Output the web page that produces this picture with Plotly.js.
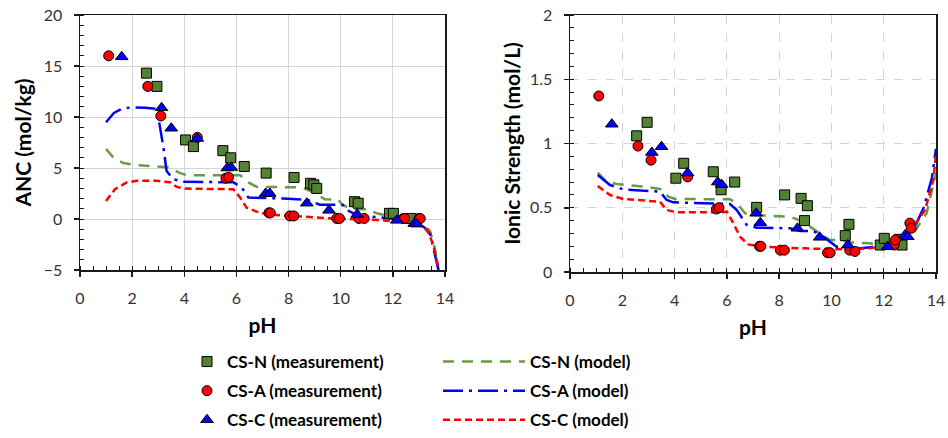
<!DOCTYPE html>
<html>
<head>
<meta charset="utf-8">
<script src="https://cdn.plot.ly/plotly-3.0.1.min.js"></script>
<style>html,body{margin:0;padding:0;background:#fff;}#chart{width:948px;height:438px;}</style>
</head>
<body>
<div id="chart"></div>
<script>
// ---------- measurement data ----------
var pH_N = [2.55, 2.95, 4.05, 4.35, 5.48, 5.78, 6.3, 7.14, 8.21, 8.84, 8.97, 9.08, 10.53, 10.67, 11.87, 12.02, 12.6, 12.7];
var anc_N = [14.3, 13.0, 7.75, 7.1, 6.7, 6.0, 5.15, 4.5, 4.07, 3.5, 3.35, 3.0, 1.7, 1.55, 0.55, 0.55, 0.05, 0.05];
var is_N = [1.06, 1.165, 0.73, 0.846, 0.78, 0.64, 0.70, 0.503, 0.60, 0.573, 0.40, 0.516, 0.283, 0.371, 0.21, 0.262, 0.254, 0.21];

var pH_A = [1.1, 2.6, 3.1, 4.5, 5.6, 5.7, 7.25, 7.3, 8.05, 8.2, 9.85, 9.95, 10.7, 10.9, 12.4, 12.45, 13.0, 13.05];
var anc_A = [16.0, 13.0, 10.1, 8.0, 4.0, 4.1, 0.6, 0.6, 0.3, 0.3, 0.05, 0.05, 0.05, 0.05, 0.05, 0.05, 0.05, 0.05];
var is_A = [1.37, 0.98, 0.87, 0.74, 0.49, 0.50, 0.20, 0.20, 0.17, 0.17, 0.15, 0.15, 0.17, 0.16, 0.21, 0.25, 0.38, 0.34];

var pH_C = [1.6, 3.13, 3.5, 4.5, 5.65, 5.8, 7.12, 7.28, 8.7, 9.55, 10.63, 12.15, 12.82, 12.92];
var anc_C = [15.9, 10.9, 8.9, 7.9, 5.0, 5.05, 2.5, 2.5, 1.55, 0.85, 0.45, -0.13, -0.45, -0.5];
var is_C = [1.15, 0.93, 0.975, 0.77, 0.70, 0.68, 0.457, 0.384, 0.34, 0.27, 0.21, 0.197, 0.288, 0.275];

// ---------- model curves: ANC ----------
var mANC_N_pH = [1.0, 1.28, 1.66, 2.05, 2.94, 3.39, 3.84, 4.09, 6.14, 6.46, 6.78, 8.5, 8.82, 9.4, 9.9, 10.1, 10.61, 11.0, 11.38, 11.8, 12.1, 12.82, 13.2, 13.43, 13.6, 13.75];
var mANC_N = [6.86, 6.03, 5.48, 5.31, 5.15, 5.05, 4.5, 4.3, 4.3, 3.58, 3.15, 3.1, 2.76, 1.94, 1.9, 1.3, 0.95, 0.95, 0.56, 0.3, 0.1, -0.1, -0.6, -1.2, -2.8, -5.0];
var mANC_A_pH = [1.0, 1.3, 1.6, 1.98, 2.5, 2.94, 3.07, 3.2, 3.32, 3.58, 3.96, 5.88, 6.2, 6.46, 7.8, 8.7, 9.0, 9.2, 10.1, 10.3, 10.6, 12.07, 12.82, 13.2, 13.43, 13.68, 13.75];
var mANC_A = [9.48, 10.4, 10.8, 10.95, 10.9, 10.8, 9.0, 7.0, 4.7, 3.9, 3.64, 3.6, 3.1, 2.1, 2.0, 1.9, 1.6, 1.4, 1.38, 0.8, 0.4, 0.0, -0.3, -0.8, -1.5, -4.1, -5.0];
var mANC_C_pH = [1.0, 1.34, 1.79, 2.17, 2.94, 3.45, 3.71, 4.03, 5.88, 6.14, 6.39, 6.78, 7.16, 9.08, 9.7, 11.5, 12.07, 12.82, 13.3, 13.55, 13.75];
var mANC_C = [1.77, 2.92, 3.58, 3.74, 3.74, 3.6, 3.15, 2.98, 2.92, 2.1, 1.11, 0.72, 0.46, 0.2, 0.05, -0.1, -0.23, -0.25, -1.0, -2.5, -4.8];

// ---------- model curves: ionic strength ----------
var mIS_N_pH = [1.06, 1.40, 1.79, 2.55, 3.06, 3.51, 3.76, 4.02, 6.12, 6.38, 6.70, 7.01, 8.42, 8.73, 9.18, 9.63, 9.95, 10.33, 10.71, 11.48, 11.99, 12.5, 13.13, 13.64, 13.96, 14.0];
var mIS_N = [0.773, 0.703, 0.685, 0.672, 0.659, 0.643, 0.586, 0.568, 0.566, 0.535, 0.457, 0.444, 0.43, 0.405, 0.353, 0.288, 0.249, 0.249, 0.231, 0.223, 0.197, 0.21, 0.30, 0.457, 0.716, 0.77];
var mIS_A_pH = [1.06, 1.53, 2.04, 2.80, 3.44, 3.70, 3.95, 6.12, 6.38, 6.76, 7.14, 8.42, 8.80, 9.31, 9.69, 10.2, 11.09, 11.73, 12.5, 13.13, 13.52, 13.84, 14.0];
var mIS_A = [0.755, 0.677, 0.643, 0.633, 0.625, 0.56, 0.542, 0.529, 0.482, 0.366, 0.345, 0.34, 0.319, 0.319, 0.275, 0.197, 0.184, 0.197, 0.236, 0.327, 0.496, 0.729, 0.96];
var mIS_C_pH = [1.06, 1.53, 2.04, 3.06, 3.44, 3.70, 4.08, 5.80, 6.0, 6.25, 6.50, 6.82, 7.27, 8.93, 10.2, 11.48, 12.5, 13.13, 13.58, 13.90, 14.0];
var mIS_C = [0.669, 0.599, 0.568, 0.555, 0.547, 0.482, 0.465, 0.465, 0.47, 0.379, 0.275, 0.215, 0.197, 0.184, 0.177, 0.184, 0.223, 0.353, 0.482, 0.716, 0.92];

// ---------- labels ----------
var names = {
  nMeas: 'CS-N (measurement)', aMeas: 'CS-A (measurement)', cMeas: 'CS-C (measurement)',
  nMod: 'CS-N (model)', aMod: 'CS-A (model)', cMod: 'CS-C (model)'
};

var FONT = 'Lato, "Open Sans", sans-serif';
var GREEN = '#548235', GREENL = '#6a9a45', RED = '#ff0000', BLUE = '#0000ff';
var dashN = '11px,8px', dashA = '20px,6px,3px,6px', dashC = '7px,4px';

function meas(x, y, name, sym, col, size, xa, ya, show, grp) {
  return {x: x, y: y, name: name, type: 'scatter', mode: 'markers', xaxis: xa, yaxis: ya,
    showlegend: show, legend: 'legend', legendgroup: grp,
    marker: {symbol: sym, color: col, size: size, line: {color: '#000', width: 1}}};
}
function model(x, y, name, col, dash, xa, ya, show, grp) {
  return {x: x, y: y, name: name, type: 'scatter', mode: 'lines', xaxis: xa, yaxis: ya,
    showlegend: show, legend: 'legend2', legendgroup: grp,
    line: {color: col, dash: dash, width: 2.5}};
}

var data = [
  model(mANC_N_pH, mANC_N, names.nMod, GREENL, dashN, 'x', 'y', true, 'g4'),
  model(mANC_A_pH, mANC_A, names.aMod, BLUE, dashA, 'x', 'y', true, 'g5'),
  model(mANC_C_pH, mANC_C, names.cMod, RED, dashC, 'x', 'y', true, 'g6'),
  model(mIS_N_pH, mIS_N, names.nMod, GREENL, dashN, 'x2', 'y2', false, 'g4'),
  model(mIS_A_pH, mIS_A, names.aMod, BLUE, dashA, 'x2', 'y2', false, 'g5'),
  model(mIS_C_pH, mIS_C, names.cMod, RED, dashC, 'x2', 'y2', false, 'g6'),
  meas(pH_N, anc_N, names.nMeas, 'square', GREEN, 10, 'x', 'y', true, 'g1'),
  meas(pH_A, anc_A, names.aMeas, 'circle', RED, 10, 'x', 'y', true, 'g2'),
  meas(pH_C, anc_C, names.cMeas, 'triangle-up', BLUE, 11, 'x', 'y', true, 'g3'),
  meas(pH_N, is_N, names.nMeas, 'square', GREEN, 10, 'x2', 'y2', false, 'g1'),
  meas(pH_A, is_A, names.aMeas, 'circle', RED, 10, 'x2', 'y2', false, 'g2'),
  meas(pH_C, is_C, names.cMeas, 'triangle-up', BLUE, 11, 'x2', 'y2', false, 'g3')
];

var tickFont = {family: FONT, size: 16, color: '#333'};
var titleFont = {family: FONT, size: 21, color: '#000', weight: 'bold'};

function xaxis(domain, anchor, gridDash) {
  return {domain: domain, anchor: anchor, range: [0, 14], dtick: 2, tick0: 0,
    showline: true, linecolor: '#1a1a1a', linewidth: 1.5, mirror: true,
    ticks: 'outside', ticklen: 5, tickcolor: '#1a1a1a', tickwidth: 1.5,
    ticklabelstandoff: 8,
    showgrid: true, gridcolor: '#d4d4d4', gridwidth: 1, griddash: gridDash,
    zeroline: false, tickfont: tickFont,
    minor: {dtick: 0.5, ticks: 'inside', ticklen: 4, tickcolor: '#1a1a1a', tickwidth: 1, showgrid: false},
    title: {text: 'pH', font: titleFont, standoff: 12}};
}
function yaxis(domain, anchor, range, dtick, minorD, title, gridDash, standoff) {
  return {domain: domain, anchor: anchor, range: range, dtick: dtick,
    showline: true, linecolor: '#1a1a1a', linewidth: 1.5, mirror: true,
    ticks: 'outside', ticklen: 5, tickcolor: '#1a1a1a', tickwidth: 1.5,
    ticklabelstandoff: 8,
    showgrid: true, gridcolor: '#d4d4d4', gridwidth: 1, griddash: gridDash,
    zeroline: false, tickfont: tickFont,
    minor: {dtick: minorD, ticks: 'inside', ticklen: 4, tickcolor: '#1a1a1a', tickwidth: 1, showgrid: false},
    title: {text: title, font: titleFont, standoff: standoff}};
}

var legFont = {family: FONT, size: 17, color: '#000', weight: 'bold'};
var layout = {
  width: 948, height: 438, margin: {l: 0, r: 0, t: 0, b: 0},
  paper_bgcolor: '#fff', plot_bgcolor: '#fff',
  font: {family: FONT},
  xaxis: xaxis([80 / 948, 445 / 948], 'y', 'solid'),
  yaxis: yaxis([1 - 270 / 438, 1 - 15 / 438], 'x', [-5, 20], 5, 1, 'ANC (mol/kg)', 'solid', 6),
  xaxis2: xaxis([570 / 948, 936 / 948], 'y2', 'dash'),
  yaxis2: yaxis([1 - 272 / 438, 1 - 15 / 438], 'x2', [0, 2], 0.5, 0.1, 'Ionic Strength (mol/L)', 'dash', 3),
  legend: {x: 187 / 948, y: 0, xanchor: 'left', yanchor: 'bottom', orientation: 'v',
    traceorder: 'grouped', tracegroupgap: 4, font: legFont, bgcolor: 'rgba(0,0,0,0)', itemwidth: 30},
  legend2: {x: 438 / 948, y: 0, xanchor: 'left', yanchor: 'bottom', orientation: 'v',
    traceorder: 'grouped', tracegroupgap: 4, font: legFont, bgcolor: 'rgba(0,0,0,0)', itemwidth: 82},
  showlegend: true
};

Plotly.newPlot('chart', data, layout, {displayModeBar: false, staticPlot: true});
</script>
</body>
</html>
